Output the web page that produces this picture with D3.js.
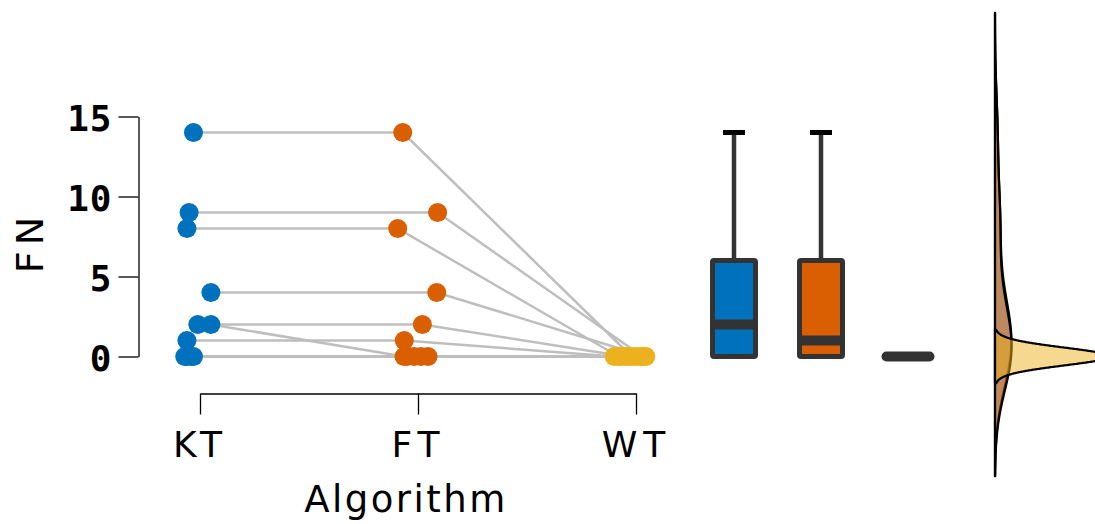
<!DOCTYPE html>
<html>
<head>
<meta charset="utf-8">
<script src="https://cdn.jsdelivr.net/npm/d3@7"></script>
<style>
  body { margin: 0; background: #ffffff; }
  svg { display: block; }
</style>
</head>
<body>
<script>
/*
* Raincloud style plot of FN per algorithm: paired points, boxplots and densities.
*/

// algorithms on the x axis
var algorithms = ["KT", "FT", "WT"];

// FN value of every subject, per algorithm (same subject order)
var ktValues = [14, 9, 8, 4, 2, 2, 1, 0, 0, 0, 0];
var ftValues = [14, 9, 8, 4, 2, 0, 1, 0, 0, 0, 0];
var wtValues = [0, 0, 0, 0, 0, 0, 0, 0, 0, 0, 0];

// horizontal jitter of each point, in category steps
var ktJitter = [-0.03, -0.05, -0.06, 0.05, -0.01, 0.05, -0.06, -0.07, -0.06, -0.04, -0.03];
var ftJitter = [-0.07, 0.09, -0.093, 0.086, 0.02, -0.064, -0.063, -0.05, -0.018, 0.014, 0.046];
var wtJitter = [-0.02, 0.03, -0.08, 0.045, -0.05, 0.0, -0.1, 0.02, -0.065, 0.04, -0.035];

// y axis ticks
var yTicks = [0, 5, 10, 15];

// colours per algorithm
var colors = ["#0072BD", "#D95F02", "#EDB120"];
var densOpacity = [0.42, 0.58, 0.5];

var width = 1095;
var height = 524;

var svg = d3.select("body")
	.append("svg")
	.attr("width", width)
	.attr("height", height);

var groups = [ktValues, ftValues, wtValues];
var jitters = [ktJitter, ftJitter, wtJitter];

// scales
var yScale = d3.scaleLinear()
	.domain([0, 15])
	.range([356.5, 116.5]);

var xScale = d3.scalePoint()
	.domain(algorithms)
	.range([200, 636]);

var boxScale = d3.scalePoint()
	.domain(algorithms)
	.range([734, 908]);

var step = xScale.step();

function pointX(g, i) {
	return xScale(algorithms[g]) + jitters[g][i] * step;
}

/*
* Bandwidth like R's bw.nrd0.
*/
function nrd0(values) {
	var sd = d3.deviation(values) || 0;
	var iqr = d3.quantile(values, 0.75) - d3.quantile(values, 0.25);
	var lo = Math.min(sd, iqr / 1.34);
	if (!lo) lo = sd || Math.abs(values[0]) || 1;
	return 0.9 * lo * Math.pow(values.length, -0.2);
}

/*
* Gaussian kernel density over [min - 3bw, max + 3bw].
*/
function kde(values) {
	var bw = nrd0(values);
	var lo = d3.min(values) - 3 * bw;
	var hi = d3.max(values) + 3 * bw;
	var out = [];
	for (var k = 0; k <= 300; k++) {
		var v = lo + (hi - lo) * k / 300;
		var s = d3.sum(values, function(x) {
			var z = (v - x) / bw;
			return Math.exp(-0.5 * z * z);
		});
		out.push([v, s / (values.length * bw * Math.sqrt(2 * Math.PI))]);
	}
	return out;
}

// paired lines between algorithms
var pairs = ktValues.map(function(d, i) { return i; });
var lineGen = d3.line();

svg.append("g")
	.selectAll("path")
	.data(pairs)
	.enter()
	.append("path")
	.attr("d", function(i) {
		return lineGen([0, 1, 2].map(function(g) {
			return [pointX(g, i), yScale(groups[g][i])];
		}));
	})
	.attr("fill", "none")
	.attr("stroke", "#bebebe")
	.attr("stroke-width", 2.5);

// points
groups.forEach(function(values, g) {
	svg.append("g")
		.selectAll("circle")
		.data(values)
		.enter()
		.append("circle")
		.attr("cx", function(d, i) { return pointX(g, i); })
		.attr("cy", function(d) { return yScale(d); })
		.attr("r", 9.5)
		.attr("fill", colors[g]);
});

// y axis
var yAxis = svg.append("g")
	.attr("transform", "translate(138.5,0)")
	.call(d3.axisLeft(yScale).tickValues(yTicks).tickSize(20).tickSizeOuter(0).tickPadding(6));

yAxis.selectAll("text")
	.attr("dy", "0.4em")
	.style("font-family", "'DejaVu Sans Mono', monospace")
	.style("font-weight", "bold")
	.style("font-size", "36px")
	.style("letter-spacing", "1px")
	.attr("fill", "#000");

// x axis
var xAxis = svg.append("g")
	.attr("transform", "translate(0,393.5)")
	.call(d3.axisBottom(xScale).tickSize(21).tickSizeOuter(0));

xAxis.selectAll("text")
	.attr("y", 38)
	.attr("dy", "0.71em")
	.style("font-family", "'DejaVu Sans', sans-serif")
	.style("font-size", "36px")
	.style("letter-spacing", "6px")
	.attr("fill", "#000");

svg.selectAll(".domain, .tick line")
	.attr("stroke", "#000")
	.attr("stroke-width", 1.3);

// axis titles
svg.append("text")
	.attr("transform", "translate(30,242) rotate(-90)")
	.attr("text-anchor", "middle")
	.attr("dominant-baseline", "central")
	.style("font-family", "'DejaVu Sans', sans-serif")
	.style("font-size", "38px")
	.style("letter-spacing", "6px")
	.text("FN");

svg.append("text")
	.attr("x", 406)
	.attr("y", 512)
	.attr("text-anchor", "middle")
	.style("font-family", "'DejaVu Sans', sans-serif")
	.style("font-size", "37px")
	.style("letter-spacing", "2.5px")
	.text("Algorithm");

// boxplots
var boxWidth = 43;
groups.forEach(function(values, g) {
	var q1 = d3.quantile(values, 0.25);
	var med = d3.quantile(values, 0.5);
	var q3 = d3.quantile(values, 0.75);
	var iqr = q3 - q1;
	var upper = d3.max(values.filter(function(v) { return v <= q3 + 1.5 * iqr; }));
	var cx = boxScale(algorithms[g]);
	var box = svg.append("g");

	if (upper > q3) {
		box.append("line")
			.attr("x1", cx).attr("x2", cx)
			.attr("y1", yScale(q3)).attr("y2", yScale(upper))
			.attr("stroke", "#333333")
			.attr("stroke-width", 4.5);
		box.append("line")
			.attr("x1", cx - 11).attr("x2", cx + 11)
			.attr("y1", yScale(upper)).attr("y2", yScale(upper))
			.attr("stroke", "#000")
			.attr("stroke-width", 5);
	}

	box.append("rect")
		.attr("x", cx - boxWidth / 2)
		.attr("y", yScale(q3))
		.attr("width", boxWidth)
		.attr("height", yScale(q1) - yScale(q3))
		.attr("rx", 1.5)
		.attr("fill", colors[g])
		.attr("stroke", "#333333")
		.attr("stroke-width", 5);

	box.append("line")
		.attr("x1", cx - boxWidth / 2).attr("x2", cx + boxWidth / 2)
		.attr("y1", yScale(med)).attr("y2", yScale(med))
		.attr("stroke", "#333333")
		.attr("stroke-width", 10)
		.attr("stroke-linecap", iqr === 0 ? "round" : "butt");
});

// densities
var baseX = 995;
var densScale = 160;
var densLine = d3.line();

groups.forEach(function(values, g) {
	var dens = kde(values);
	var pts = [[baseX, yScale(dens[0][0])]]
		.concat(dens.map(function(d) { return [baseX + d[1] * densScale, yScale(d[0])]; }))
		.concat([[baseX, yScale(dens[dens.length - 1][0])]]);
	svg.append("path")
		.attr("d", densLine(pts) + "Z")
		.attr("fill", colors[g])
		.attr("fill-opacity", densOpacity[g])
		.attr("stroke", "#000")
		.attr("stroke-width", 2.2)
		.attr("stroke-linejoin", "round");
});
</script>
</body>
</html>
